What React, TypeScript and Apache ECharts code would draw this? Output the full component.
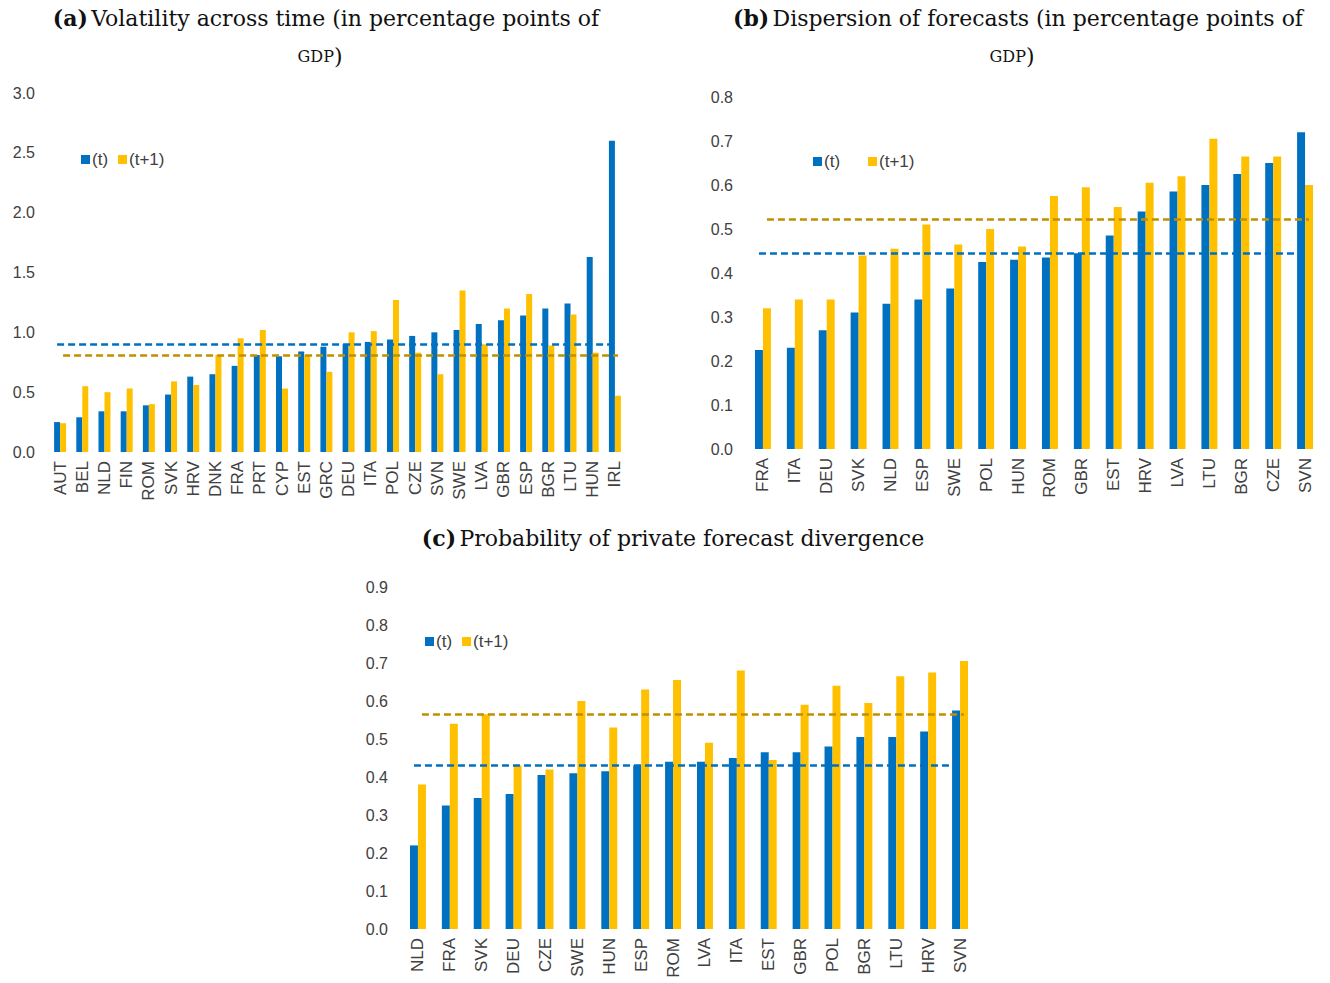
import React, { useEffect, useRef } from "react";
import * as echarts from "echarts";

const catsA = ["AUT","BEL","NLD","FIN","ROM","SVK","HRV","DNK","FRA","PRT","CYP","EST","GRC","DEU","ITA","POL","CZE","SVN","SWE","LVA","GBR","ESP","BGR","LTU","HUN","IRL"];
const tA = [0.25,0.29,0.34,0.34,0.39,0.48,0.63,0.65,0.72,0.81,0.80,0.84,0.88,0.90,0.92,0.94,0.97,1.00,1.02,1.07,1.10,1.14,1.20,1.24,1.63,2.60];
const t1A = [0.24,0.55,0.50,0.53,0.40,0.59,0.56,0.81,0.95,1.02,0.53,0.81,0.67,1.00,1.01,1.27,0.83,0.65,1.35,0.90,1.20,1.32,0.89,1.15,0.83,0.47];
const avgA = [0.9, 0.81];

const catsB = ["FRA","ITA","DEU","SVK","NLD","ESP","SWE","POL","HUN","ROM","GBR","EST","HRV","LVA","LTU","BGR","CZE","SVN"];
const tB = [0.225,0.23,0.27,0.31,0.33,0.34,0.365,0.425,0.43,0.435,0.445,0.485,0.54,0.585,0.60,0.625,0.65,0.72];
const t1B = [0.32,0.34,0.34,0.44,0.455,0.51,0.465,0.50,0.46,0.575,0.595,0.55,0.605,0.62,0.705,0.665,0.665,0.60];
const avgB = [0.445, 0.522];

const catsC = ["NLD","FRA","SVK","DEU","CZE","SWE","HUN","ESP","ROM","LVA","ITA","EST","GBR","POL","BGR","LTU","HRV","SVN"];
const tC = [0.22,0.325,0.345,0.355,0.405,0.41,0.415,0.43,0.44,0.44,0.45,0.465,0.465,0.48,0.505,0.505,0.52,0.575];
const t1C = [0.38,0.54,0.565,0.43,0.42,0.60,0.53,0.63,0.655,0.49,0.68,0.445,0.59,0.64,0.595,0.665,0.675,0.705];
const avgC = [0.43, 0.565];

const BLUE = "#0070C0", YEL = "#FFC000", GOLD = "#BF9000";
const LBL = { fontFamily: "Liberation Sans", fontSize: 16, color: "#404040" };
const SERIF = "DejaVu Serif";

export default function App() {
  const ref = useRef<HTMLDivElement>(null);
  useEffect(() => {
    const chart = echarts.init(ref.current!, null, { renderer: "svg" });
    const grids = [
      { left: 49, top: 93, width: 577, height: 359 },
      { left: 747, top: 97, width: 574, height: 352 },
      { left: 402, top: 587, width: 574, height: 342 },
    ];
    const cats = [catsA, catsB, catsC];
    const ys = [[3, 0.5], [0.8, 0.1], [0.9, 0.1]];
    const ts = [tA, tB, tC], t1s = [t1A, t1B, t1C], avgs = [avgA, avgB, avgC];
    const gaps = ["46%", "50%", "50%"];
    const series: any[] = [];
    for (let i = 0; i < 3; i++) {
      const last = cats[i].length - 1;
      const ml = (v: number, c: string) => ({
        silent: true, symbol: "none", label: { show: false },
        lineStyle: { color: c, type: [7, 4], width: 2.5 },
        data: [[{ coord: [0, v] }, { coord: [last, v] }]],
      });
      series.push({ name: "(t)", type: "bar", xAxisIndex: i, yAxisIndex: i, data: ts[i], itemStyle: { color: BLUE }, barGap: "0%", barCategoryGap: gaps[i], markLine: ml(avgs[i][0], BLUE), z: 2 });
      series.push({ name: "(t+1)", type: "bar", xAxisIndex: i, yAxisIndex: i, data: t1s[i], itemStyle: { color: YEL }, barGap: "0%", barCategoryGap: gaps[i], markLine: ml(avgs[i][1], GOLD), z: 2 });
    }
    const legendPos = [
      { left: 76, top: 146, itemGap: 10 },
      { left: 808, top: 148, itemGap: 28 },
      { left: 420, top: 628, itemGap: 10 },
    ];
    const title = (x: number, y: number, lab: string, rest: string) => ({
      type: "text", x, y,
      style: {
        text: `{b|${lab}} {n|${rest}}`, align: "center", verticalAlign: "middle",
        rich: {
          b: { fontFamily: SERIF, fontWeight: "bold", fontSize: 22, fill: "#111" },
          n: { fontFamily: SERIF, fontSize: 22, fill: "#111" },
        },
      },
    });
    const sc = (x: number, y: number) => ({
      type: "text", x, y,
      style: {
        text: "{s|GDP}{n|)}", align: "center", verticalAlign: "middle",
        rich: {
          s: { fontFamily: SERIF, fontSize: 16, fill: "#111" },
          n: { fontFamily: SERIF, fontSize: 22, fill: "#111" },
        },
      },
    });
    chart.setOption({
      animation: false,
      grid: grids,
      xAxis: cats.map((c, i) => ({
        type: "category", gridIndex: i, data: c,
        axisTick: { show: false }, axisLine: { show: false },
        axisLabel: { ...LBL, fontSize: 17, rotate: 90, interval: 0, margin: 9 },
      })),
      yAxis: ys.map((y, i) => ({
        type: "value", gridIndex: i, min: 0, max: y[0], interval: y[1],
        splitLine: { show: false }, axisLine: { show: false }, axisTick: { show: false },
        axisLabel: { ...LBL, margin: 14, formatter: (v: number) => v.toFixed(1) },
      })),
      legend: legendPos.map((p) => ({
        ...p, orient: "horizontal", data: ["(t)", "(t+1)"], icon: "rect",
        itemWidth: 9, itemHeight: 9, textStyle: { ...LBL, fontSize: 17, padding: [0, 0, 0, -3] },
      })),
      series,
      graphic: [
        title(326, 18, "(a)", "Volatility across time (in percentage points of"),
        sc(320, 56),
        title(1018, 18, "(b)", "Dispersion of forecasts (in percentage points of"),
        sc(1012, 56),
        title(673, 538, "(c)", "Probability of private forecast divergence"),
      ],
    });
    return () => chart.dispose();
  }, []);
  return <div ref={ref} style={{ position: "absolute", left: 0, top: 0, width: 1330, height: 983, background: "#fff" }} />;
}
